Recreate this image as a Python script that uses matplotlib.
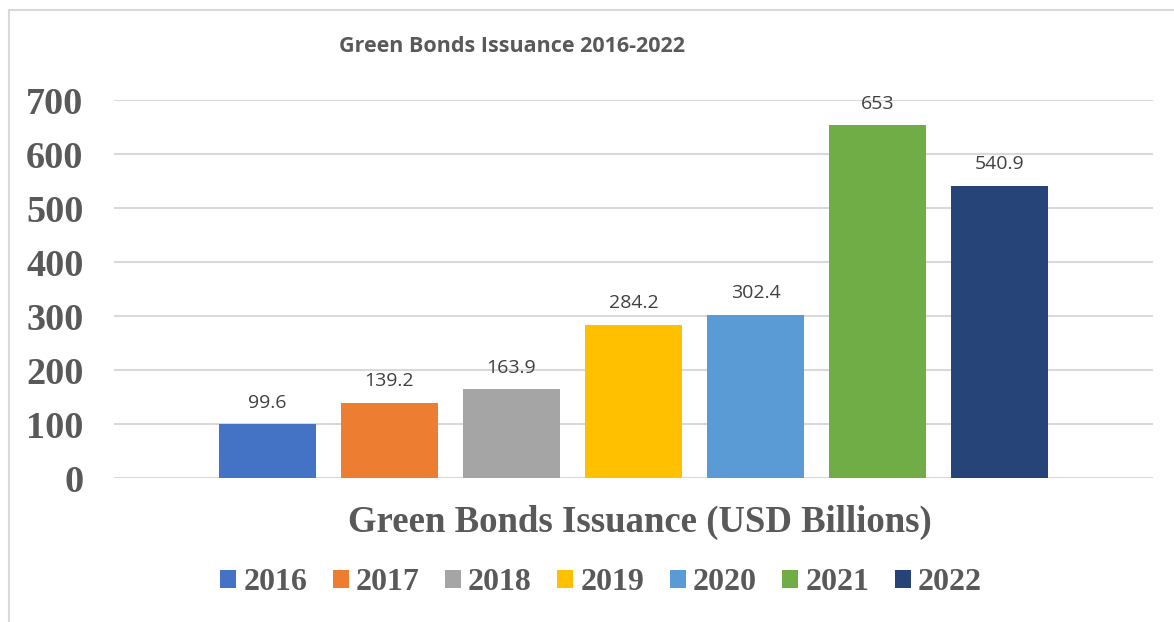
import matplotlib
matplotlib.use('Agg')
import matplotlib.pyplot as plt
from matplotlib.patches import Rectangle

# data
years = ['2016', '2017', '2018', '2019', '2020', '2021', '2022']
issuance = [99.6, 139.2, 163.9, 284.2, 302.4, 653, 540.9]
value_labels = ['99.6', '139.2', '163.9', '284.2', '302.4', '653', '540.9']
colors = ['#4472C4', '#ED7D31', '#A5A5A5', '#FFC000', '#5B9BD5', '#70AD47', '#264478']

W, H = 1174, 622
fig = plt.figure(figsize=(W / 100, H / 100), dpi=100)

# outer chart frame (cropped at right/bottom like the source)
fig.patches.append(Rectangle((9 / W, -0.1), 1.2, (H - 10) / H + 0.1, transform=fig.transFigure,
                             fill=False, edgecolor='#d9d9d9', linewidth=1.5))

# plot area in pixels: x 114..1153, y 100..478
ax = fig.add_axes([114 / W, (H - 478) / H, (1153 - 114) / W, (478 - 100) / H])

width = 97 / 122
for i, (yr, v, c) in enumerate(zip(years, issuance, colors)):
    ax.bar(i, v, width=width, color=c, label=yr, zorder=3)
    ax.annotate(value_labels[i], (i, v), xytext=(0, 9), textcoords='offset points',
                ha='center', va='bottom', fontsize=14, family='Open Sans', color='#404040')

ax.set_xlim(-1.258, 7.258)
ax.set_ylim(0, 700)
ax.set_yticks(range(0, 701, 100))
ax.set_xticks([])
ax.grid(axis='y', color='#d9d9d9', linewidth=1.5, zorder=0)
for s in ax.spines.values():
    s.set_visible(False)
ax.tick_params(axis='y', length=0, pad=22)
for lbl in ax.get_yticklabels():
    lbl.set_fontfamily('Liberation Serif')
    lbl.set_fontweight('bold')
    lbl.set_fontsize(27.5)
    lbl.set_color('#595959')

fig.text(512 / W, 1 - 47 / H, 'Green Bonds Issuance 2016-2022', ha='center', va='center',
         fontsize=15.5, fontweight='bold', family='Open Sans', color='#595959')

fig.text(640 / W, 1 - 522 / H, 'Green Bonds Issuance (USD Billions)', ha='center', va='center',
         fontsize=26.5, fontweight='bold', family='Liberation Serif', color='#595959')

leg = fig.legend(loc='center', bbox_to_anchor=(601 / W, 1 - 583 / H), ncol=7, frameon=False,
                 handlelength=0.5, handleheight=0.5, handletextpad=0.22, columnspacing=0.8,
                 prop={'family': 'Liberation Serif', 'weight': 'bold', 'size': 23})
for t in leg.get_texts():
    t.set_color('#595959')

fig.savefig('out.png', dpi=100)
